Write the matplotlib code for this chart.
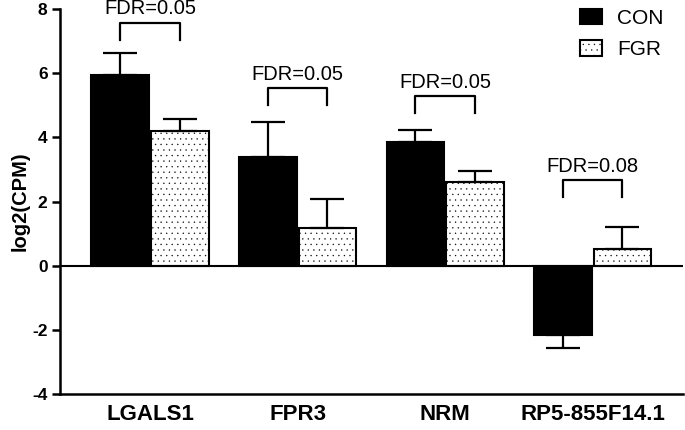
import matplotlib
matplotlib.use("Agg")
import matplotlib.pyplot as plt
import numpy as np

plt.rcParams['font.family'] = ['Liberation Sans', 'DejaVu Sans']
plt.rcParams['hatch.linewidth'] = 0.2
plt.rcParams['hatch.color'] = '#777777'

genes = ["LGALS1", "FPR3", "NRM", "RP5-855F14.1"]
con = [5.95, 3.40, 3.85, -2.15]
con_err = [0.68, 1.08, 0.38, 0.40]
fgr = [4.20, 1.17, 2.60, 0.52]
fgr_err = [0.39, 0.90, 0.35, 0.68]
fdr_labels = ["FDR=0.05", "FDR=0.05", "FDR=0.05", "FDR=0.08"]
bracket_top = [7.57, 5.53, 5.28, 2.66]
yticks = [-4, -2, 0, 2, 4, 6, 8]

fig = plt.figure(figsize=(6.85, 4.30), dpi=100)
ax = fig.add_axes([0.0876, 0.0837, 0.909, 0.895])

x = np.arange(len(genes))
w = 0.39
gap = 0.007
xc = x - w / 2 - gap
xf = x + w / 2 + gap

ax.bar(xc, con, width=w, color='black', edgecolor='black', linewidth=1.5,
       label='CON', zorder=2)
ax.bar(xf, fgr, width=w, color='white', edgecolor='black', linewidth=1.5,
       hatch='...', label='FGR', zorder=2)

def one_sided(vals, errs):
    lo = [0 if v >= 0 else e for v, e in zip(vals, errs)]
    hi = [e if v >= 0 else 0 for v, e in zip(vals, errs)]
    return [lo, hi]

ax.errorbar(xc, con, yerr=one_sided(con, con_err), fmt='none', ecolor='black',
            elinewidth=1.6, capsize=12, capthick=1.6, zorder=3)
ax.errorbar(xf, fgr, yerr=one_sided(fgr, fgr_err), fmt='none', ecolor='black',
            elinewidth=1.6, capsize=12, capthick=1.6, zorder=3)

leg_drop = 0.52
for i in range(len(genes)):
    top = bracket_top[i]
    ax.plot([xc[i], xc[i], xf[i], xf[i]], [top - leg_drop, top, top, top - leg_drop],
            color='black', lw=1.6, zorder=3)
    ax.text(x[i], top + 0.15, fdr_labels[i], ha='center', va='bottom', fontsize=14.5)

ax.axhline(0, color='black', lw=1.5, zorder=4)

ax.set_xlim(-0.61, 3.61)
ax.set_ylim(-4, 8)
ax.set_yticks(yticks)
ax.set_yticklabels([str(t) for t in yticks], fontsize=12.5, fontweight='bold')
ax.set_xticks(x)
ax.set_xticklabels(genes, fontsize=16, fontweight='bold')
ax.tick_params(axis='x', length=0, pad=7)
ax.tick_params(axis='y', length=6, width=1.8, pad=3)
ax.set_ylabel("log2(CPM)", fontsize=14.5, fontweight='bold', labelpad=2)

for s in ['top', 'right']:
    ax.spines[s].set_visible(False)
for s in ['left', 'bottom']:
    ax.spines[s].set_linewidth(1.8)

ax.legend(loc='upper right', bbox_to_anchor=(1.0, 1.05), frameon=False, fontsize=15,
          handlelength=1.05, handleheight=0.75, handletextpad=0.75, labelspacing=0.6)

fig.savefig("out.png", dpi=100)
